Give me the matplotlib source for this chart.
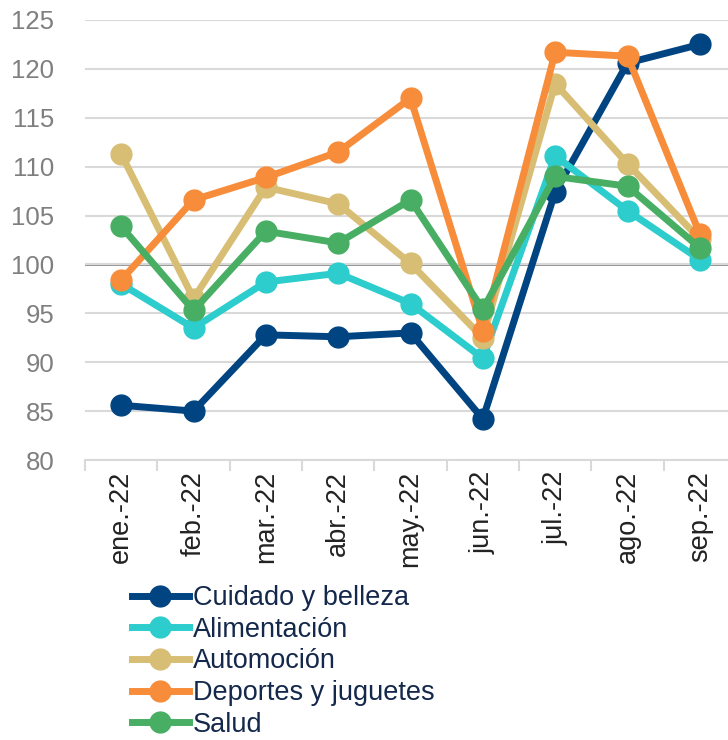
import matplotlib
matplotlib.use("Agg")
import matplotlib.pyplot as plt
import numpy as np

plt.rcParams['font.family'] = ['Liberation Sans', 'DejaVu Sans']

# Data
months = ['ene.-22', 'feb.-22', 'mar.-22', 'abr.-22', 'may.-22',
          'jun.-22', 'jul.-22', 'ago.-22', 'sep.-22']
cuidado = [85.6, 85.0, 92.8, 92.6, 93.0, 84.2, 107.4, 120.6, 122.5]
alimentacion = [98.0, 93.5, 98.2, 99.1, 96.0, 90.4, 111.1, 105.5, 100.5]
automocion = [111.3, 96.5, 107.9, 106.2, 100.1, 92.5, 118.5, 110.3, 102.6]
deportes = [98.4, 106.6, 108.9, 111.5, 117.0, 93.2, 121.7, 121.3, 103.1]
salud = [103.9, 95.3, 103.4, 102.2, 106.6, 95.4, 109.0, 108.0, 101.7]

series = [
    ('Cuidado y belleza', cuidado, '#004481'),
    ('Alimentación', alimentacion, '#2DCCCD'),
    ('Automoción', automocion, '#D8BE75'),
    ('Deportes y juguetes', deportes, '#F78C3A'),
    ('Salud', salud, '#48AE64'),
]

fig = plt.figure(figsize=(7.28, 7.40), dpi=100)
ax = fig.add_axes([85/728, 1 - 460/740, (736 - 85)/728, 440/740])

x = np.arange(len(months))
for name, vals, col in series:
    ax.plot(x, vals, color=col, lw=5, marker='o', markersize=15,
            label=name, solid_joinstyle='round', zorder=3)

ax.set_ylim(80, 125)
ax.set_yticks(range(80, 126, 5))
ax.set_xlim(-0.5, len(months) - 0.5)
ax.set_xticks(x)
ax.set_xticklabels(months, rotation=90, fontsize=19.5, color='#222222')
ax.set_xticks(np.arange(-0.5, len(months), 1), minor=True)

ax.grid(axis='y', color='#d9d9d9', lw=1.5, zorder=0)
ax.axhline(100, color='#8c8c8c', lw=2, zorder=1)

for s in ['top', 'right', 'left']:
    ax.spines[s].set_visible(False)
ax.spines['bottom'].set_color('#d9d9d9')
ax.spines['bottom'].set_linewidth(1.5)

ax.tick_params(axis='y', length=0, labelsize=18.5, labelcolor='#7f7f7f', pad=22)
ax.tick_params(axis='x', which='major', length=0, pad=8)
ax.tick_params(axis='x', which='minor', length=8, width=1.5, color='#d9d9d9')

leg = fig.legend(loc='upper left', bbox_to_anchor=(132/728, 1 - 585/740),
                 frameon=False, fontsize=19.5, handlelength=2.1,
                 handletextpad=0.15, labelspacing=0.21, borderpad=0,
                 borderaxespad=0)
for t in leg.get_texts():
    t.set_color('#14284b')

fig.savefig('out.png', dpi=100)
